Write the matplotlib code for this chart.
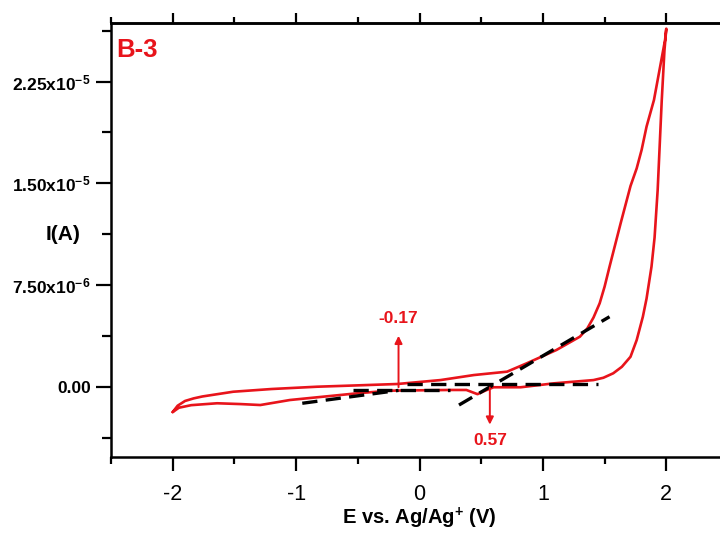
import numpy as np
import matplotlib
matplotlib.use('Agg')
import matplotlib.pyplot as plt
from matplotlib.ticker import MultipleLocator, FixedLocator, FuncFormatter

plt.rcParams['font.family'] = ['Liberation Sans', 'DejaVu Sans']
plt.rcParams['mathtext.fontset'] = 'custom'
plt.rcParams['mathtext.rm'] = 'Liberation Sans'
plt.rcParams['mathtext.bf'] = 'Liberation Sans:bold'
plt.rcParams['mathtext.it'] = 'Liberation Sans:italic'
plt.rcParams['lines.scale_dashes'] = False

RED = '#e8141b'

# forward (anodic) scan, -2 V -> 2 V
e_fwd = [-2.00, -1.96, -1.90, -1.83, -1.76, -1.51, -1.20, -0.83, -0.50, -0.18,
         0.17, 0.44, 0.71, 0.87, 1.11, 1.30, 1.36, 1.41, 1.46, 1.50,
         1.54, 1.63, 1.71, 1.76, 1.80, 1.84, 1.90, 1.95, 1.99, 2.00]
i_fwd = [-1.87e-6, -1.40e-6, -1.05e-6, -0.86e-6, -0.72e-6, -0.37e-6, -0.17e-6, 0.00, 0.10e-6, 0.20e-6,
         0.49e-6, 0.86e-6, 1.11e-6, 1.73e-6, 2.71e-6, 3.69e-6, 4.30e-6, 5.10e-6, 6.15e-6, 7.38e-6,
         8.85e-6, 1.205e-5, 1.48e-5, 1.61e-5, 1.746e-5, 1.918e-5, 2.114e-5, 2.36e-5, 2.557e-5, 2.64e-5]

# reverse (cathodic) scan, 2 V -> -2 V
e_rev = [2.00, 1.985, 1.963, 1.93, 1.905, 1.88, 1.84, 1.81, 1.76, 1.71,
         1.64, 1.57, 1.49, 1.41, 1.09, 0.82, 0.60, 0.53, 0.47, 0.38,
         0.25, -0.24, -0.51, -1.05, -1.29, -1.45, -1.64, -1.85, -1.95, -2.00]
i_rev = [2.64e-5, 2.48e-5, 2.11e-5, 1.45e-5, 1.10e-5, 8.85e-6, 6.50e-6, 5.16e-6, 3.44e-6, 2.21e-6,
         1.47e-6, 0.99e-6, 0.66e-6, 0.49e-6, 0.25e-6, -0.04e-6, -0.04e-6, -0.30e-6, -0.55e-6, -0.24e-6,
         -0.24e-6, -0.29e-6, -0.49e-6, -0.98e-6, -1.35e-6, -1.28e-6, -1.22e-6, -1.36e-6, -1.55e-6, -1.87e-6]

# tangent lines used to read the onset potentials
tan_e = [[-0.95, -0.17], [-0.54, 0.25], [-0.10, 1.445], [0.32, 1.54]]
tan_i = [[-1.22e-6, -0.27e-6], [-0.21e-6, -0.21e-6], [0.20e-6, 0.20e-6], [-1.35e-6, 5.16e-6]]

onset_e = [-0.17, 0.57]
onset_txt = ['-0.17', '0.57']

fig = plt.figure(figsize=(7.2, 5.35), dpi=100)
ax = fig.add_axes([111 / 720, 1 - 456.7 / 535, (728 - 111) / 720, (456.7 - 22.7) / 535])

ax.plot(e_fwd + e_rev[1:], i_fwd + i_rev[1:], color=RED, lw=1.9,
        solid_joinstyle='round', solid_capstyle='round')
for xs, ys in zip(tan_e, tan_i):
    ax.plot(xs, ys, color='k', lw=2.4, dashes=(11, 6), solid_capstyle='butt')

# onset arrows
ax.annotate('', xy=(onset_e[0], 3.96e-6), xytext=(onset_e[0], -0.24e-6),
            arrowprops=dict(arrowstyle='-|>', color=RED, lw=1.4, mutation_scale=11))
ax.text(onset_e[0], 5.0e-6, onset_txt[0], color=RED, fontsize=12.5, fontweight='bold',
        ha='center', va='center')
ax.annotate('', xy=(onset_e[1], -3.0e-6), xytext=(onset_e[1], 0.15e-6),
            arrowprops=dict(arrowstyle='-|>', color=RED, lw=1.4, mutation_scale=11))
ax.text(onset_e[1], -3.95e-6, onset_txt[1], color=RED, fontsize=12.5, fontweight='bold',
        ha='center', va='center')

ax.set_xlim(-2.5, 2.5)
ax.set_ylim(-5.16e-6, 2.684e-5)

ax.xaxis.set_major_locator(FixedLocator([-2, -1, 0, 1, 2]))
ax.xaxis.set_minor_locator(MultipleLocator(0.5))
ax.yaxis.set_major_locator(MultipleLocator(7.5e-6))
ax.yaxis.set_minor_locator(MultipleLocator(3.75e-6))


def yfmt(v, pos):
    if abs(v) < 1e-12:
        return '0.00'
    ex = int(np.floor(np.log10(abs(v))))
    return r'$\mathbf{%.2fx10^{%d}}$' % (v / 10 ** ex, ex)


ax.yaxis.set_major_formatter(FuncFormatter(yfmt))
ax.xaxis.set_major_formatter(FuncFormatter(lambda v, p: '%d' % v))

for s in ax.spines.values():
    s.set_linewidth(1.8)

ax.tick_params(axis='x', which='major', direction='out', length=10, width=1.6,
               labelsize=15.5, pad=10, top=False)
ax.tick_params(axis='x', which='minor', direction='out', length=5, width=1.6, top=False)
ax.tick_params(axis='y', which='major', direction='out', length=10.5, width=1.6,
               labelsize=12.5, pad=4)
ax.tick_params(axis='y', which='minor', direction='out', length=6.5, width=1.6)
for lab in ax.get_yticklabels():
    lab.set_fontweight('bold')

top = ax.secondary_xaxis('top')
top.xaxis.set_major_locator(FixedLocator([-2, -1, 0, 1, 2]))
top.xaxis.set_minor_locator(MultipleLocator(0.5))
top.tick_params(which='major', direction='out', length=7, width=1.6, labeltop=False)
top.tick_params(which='minor', direction='out', length=4, width=1.6)
top.spines['top'].set_linewidth(1.8)

ax.set_xlabel(r'E vs. Ag/Ag$^{\mathbf{+}}$ (V)', fontsize=14.5, fontweight='bold', labelpad=0)
fig.text(63 / 720, 1 - 234 / 535, 'I(A)', ha='center', va='center', fontsize=15, fontweight='bold')
ax.text(0.008, 0.921, 'B-3', transform=ax.transAxes, color=RED, fontsize=18.5,
        fontweight='bold', ha='left', va='baseline')

fig.savefig('out.png', dpi=100)
